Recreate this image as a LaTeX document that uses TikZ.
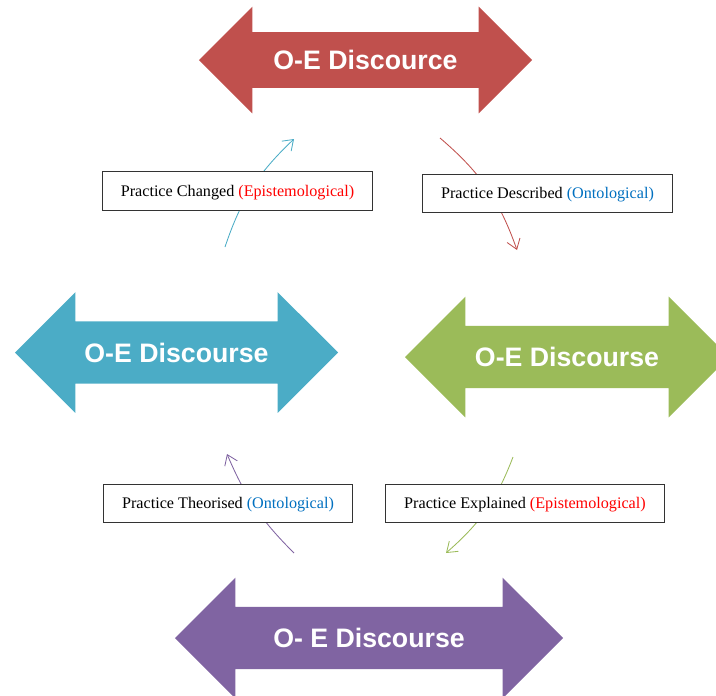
\documentclass[tikz,border=0pt]{standalone}
\usepackage{fontspec}
\setmainfont{Liberation Serif}
\newfontfamily\oefont{Liberation Sans}
\usetikzlibrary{arrows.meta,shapes.arrows}

\definecolor{oered}{HTML}{C0504D}
\definecolor{oeblue}{HTML}{4BACC6}
\definecolor{oegreen}{HTML}{9BBB59}
\definecolor{oepurple}{HTML}{8064A2}
\definecolor{epired}{HTML}{FF0000}
\definecolor{ontoblue}{HTML}{0070C0}

\tikzset{
  oearrow/.style={double arrow, fill=#1, text=white, inner sep=0pt,
    font=\oefont\bfseries\fontsize{19}{22}\selectfont,
    text height=10.1mm, text depth=5.3mm, double arrow head extend=7.3mm},
  practice/.style={rectangle, draw=black!80, fill=white, line width=0.6pt,
    inner xsep=4.6mm, minimum height=9.6mm, text height=3.2mm, text depth=0.5mm,
    font=\fontsize{11.5}{14}\selectfont},
  cyclearrow/.style={line width=0.6pt, -{Straight Barb[length=2.4mm,width=3.4mm]}}
}

\begin{document}
\begin{tikzpicture}[x=0.25mm, y=-0.25mm]
  \useasboundingbox (0,0) rectangle (716,695);

  \node (top) [oearrow=oered, minimum height=83.25mm, text height=9.28mm, text depth=4.48mm, double arrow head extend=6.375mm] at (365.5,60) {O-E Discource};
  \node (left) [oearrow=oeblue, minimum height=80.75mm] at (176.5,352.5) {O-E Discourse};
  \node (right) [oearrow=oegreen, minimum height=81mm] at (567,357) {O-E Discourse};
  \node (bottom) [oearrow=oepurple, minimum height=97mm] at (369,638) {O- E Discourse};

  \coordinate (c1) at (225,247);
  \coordinate (c2) at (294,139);
  \coordinate (c3) at (440,138);
  \coordinate (c4) at (517,250);
  \coordinate (c5) at (513,457);
  \coordinate (c6) at (446,553);
  \coordinate (c7) at (294,553);
  \coordinate (c8) at (227,454);

  \draw [cyclearrow, oeblue] (c1) to[bend left=14] (c2);
  \draw [cyclearrow, oered] (c3) to[bend left=15] (c4);
  \draw [cyclearrow, oegreen] (c5) to[bend left=14] (c6);
  \draw [cyclearrow, oepurple] (c7) to[bend left=11] (c8);

  \node (changed) [practice] at (237.5,191) {Practice Changed \textcolor{epired}{(Epistemological)}};
  \node (described) [practice] at (547.5,193.5) {Practice Described \textcolor{ontoblue}{(Ontological)}};
  \node (theorised) [practice] at (228,503.5) {Practice Theorised \textcolor{ontoblue}{(Ontological)}};
  \node (explained) [practice] at (525,503.5) {Practice Explained \textcolor{epired}{(Epistemological)}};
\end{tikzpicture}
\end{document}
